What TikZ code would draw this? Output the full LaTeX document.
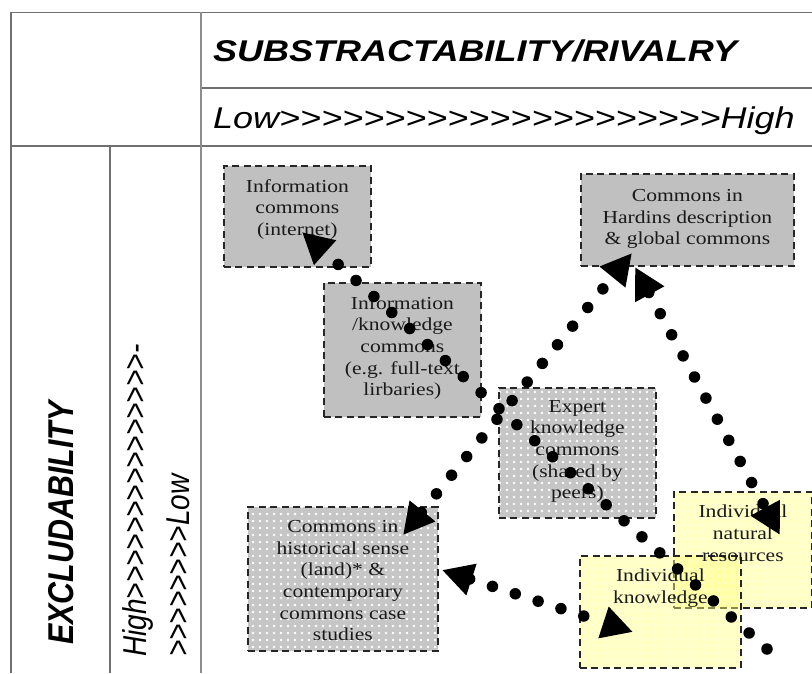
\documentclass[tikz,border=0pt]{standalone}
\usepackage{fontspec}
\usepackage{graphicx}
\usetikzlibrary{arrows.meta,patterns.meta}
\setmainfont{Liberation Serif}[FakeStretch=1.18]
\newfontfamily\hdfont{Liberation Sans}[FakeStretch=1.2]
\newfontfamily\vfont{Liberation Sans}
\definecolor{tblgray}{HTML}{707070}
\definecolor{boxgray}{HTML}{C0C0C0}
\definecolor{patgray}{HTML}{C6C6C6}
\definecolor{ylw}{HTML}{FFFF80}
\definecolor{txtc}{HTML}{1A1A1A}
\tikzset{
  tbl/.style={draw=tblgray, line width=1.6pt},
  boxbase/.style={rectangle, anchor=north west, inner sep=0pt, draw=black!85, line width=1.8pt, dash pattern=on 7pt off 4.5pt},
  graybox/.style={boxbase, fill=boxgray},
  patbox/.style={boxbase, preaction={fill=patgray}, preaction={pattern={Dots[distance=6.5pt,radius=1.5pt]}, pattern color=white}},
  ylwbox/.style={boxbase, preaction={fill=ylw, fill opacity=0.45}, preaction={pattern={Dots[distance=6.5pt,radius=1.5pt]}, pattern color=white, fill opacity=0.5}},
  btext/.style={anchor=north, inner sep=0pt, align=center, text=txtc, font=\fontsize{18.3}{21.7}\selectfont},
  conn/.style={line width=11.5pt, line cap=round, dash pattern=on 0pt off 24pt, black},
  bigtri/.tip={Triangle[length=31pt,width=31pt]},
  hdr/.style={anchor=base west, inner sep=0pt, text=black}
}
\begin{document}
\begin{tikzpicture}[x=1pt,y=-1pt]
\useasboundingbox (0,0) rectangle (812,673);
% table
\draw[tbl] (11,12.3) -- (812,12.3);
\draw[tbl] (201,88) -- (812,88);
\draw[tbl] (11,146) -- (812,146);
\draw[tbl] (11,12.3) -- (11,673);
\draw[draw=tblgray!80, line width=2.4pt] (201,12.3) -- (201,673);
\draw[tbl] (110,146) -- (110,673);
% headers
\node[hdr, font=\hdfont\bfseries\itshape\fontsize{30}{36}\selectfont] (title) at (213,61) {SUBSTRACTABILITY/RIVALRY};
\node[hdr, font=\hdfont\itshape\fontsize{30}{36}\selectfont] (lowhigh) at (213,128) {Low>>>>>>>>>>>>>>>>>>>>>High};
\node[hdr, rotate=90, font=\vfont\bfseries\itshape\fontsize{30.4}{36}\selectfont] (excl) at (73,645) {\scalebox{1}[1.18]{EXCLUDABILITY}};
\node[hdr, rotate=90, font=\vfont\itshape\fontsize{28}{34}\selectfont] (hi1) at (146,657) {\scalebox{1}[1.18]{High>>>>>>>>>>>>>>>-}};
\node[hdr, rotate=90, font=\vfont\itshape\fontsize{28}{34}\selectfont] (hi2) at (189,657) {\scalebox{1}[1.18]{>>>>>>>>Low}};
% boxes
\node[graybox, minimum width=147pt, minimum height=101pt] (infoC) at (223,165) {};
\node[graybox, minimum width=157pt, minimum height=134pt] (infoK) at (323,282) {};
\node[graybox, minimum width=213pt, minimum height=92pt] (hardin) at (580,173) {};
\node[patbox, minimum width=157pt, minimum height=130pt] (expert) at (498,387) {};
\node[patbox, minimum width=190pt, minimum height=144pt] (hist) at (247,506) {};
\node[ylwbox, minimum width=138pt, minimum height=116pt] (natres) at (673,491) {};
\node[ylwbox, minimum width=161pt, minimum height=112pt] (indK) at (579,555) {};
% box texts
\node[btext] (infoCt) at ([yshift=-14pt]infoC.north) {Information\\commons\\(internet)};
\node[btext] (infoKt) at ([yshift=-14pt]infoK.north) {Information\\/knowledge\\commons\\(e.g. full-text\\lirbaries)};
\node[btext] (hardint) at ([yshift=-16pt]hardin.north) {Commons in\\Hardins description\\\& global commons};
\node[btext] (expertt) at ([yshift=-13pt]expert.north) {Expert\\knowledge\\commons\\(shared by\\peers)};
\begin{scope}
\clip ([xshift=1pt,yshift=6pt]hist.south west) rectangle (hist.north east);
\node[btext] (histt) at ([yshift=-14pt]hist.north) {Commons in\\historical sense\\(land)* \&\\contemporary\\commons case\\studies};
\end{scope}
\node[btext] (natrest) at ([yshift=-14pt]natres.north) {Individual\\natural\\resources};
\node[btext] (indKt) at ([yshift=-14pt]indK.north) {Individual\\knowledge};
% connectors
\coordinate (c1a) at (767,649);
\coordinate (c1b) at (302,232);
\coordinate (c2a) at (403,535);
\coordinate (c2b) at (632,253);
\coordinate (c3a) at (635,267);
\coordinate (c3b) at (780,535);
\coordinate (c4a) at (442,570);
\coordinate (c4b) at (633,632);
\draw[conn, -bigtri] (c1a) -- (c1b);
\draw[conn, bigtri-bigtri] (c2a) -- (c2b);
\draw[conn, bigtri-bigtri] (c3a) -- (c3b);
\draw[conn, bigtri-bigtri] (c4a) -- (c4b);
\end{tikzpicture}
\end{document}
